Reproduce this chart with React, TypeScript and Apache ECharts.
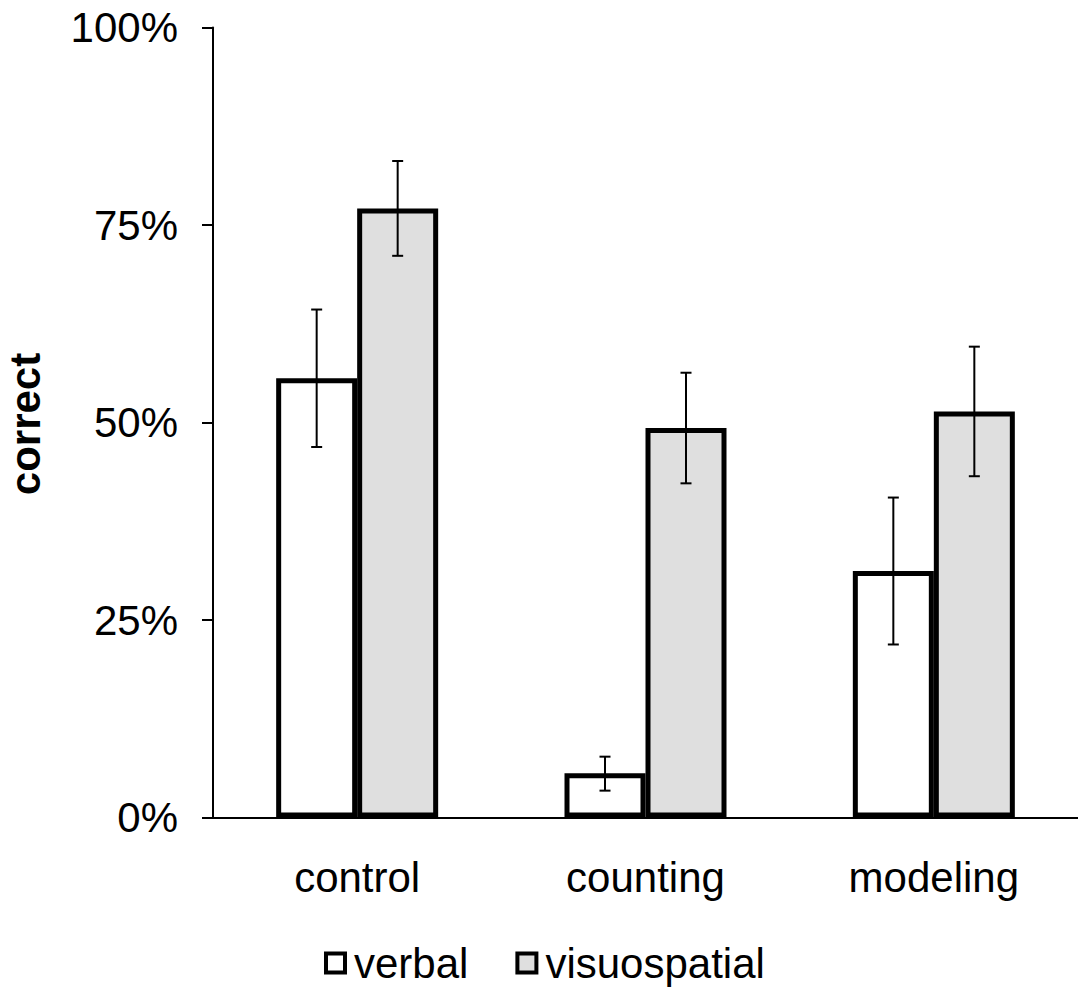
import React, { useEffect, useRef } from "react";
import * as echarts from "echarts";

const categories = ["control", "counting", "modeling"];
const seriesNames = ["verbal", "visuospatial"];
const verbalValues = [55.6, 5.6, 31.2];
const visuoValues = [77.1, 49.3, 51.4];
const verbalErrLow = [46.9, 3.4, 21.9];
const verbalErrHigh = [64.3, 7.7, 40.5];
const visuoErrLow = [71.1, 42.3, 43.2];
const visuoErrHigh = [83.1, 56.3, 59.6];
const yTicks = [0, 25, 50, 75, 100];

const FONT = "'Liberation Sans', Arial, Helvetica, sans-serif";
const BAR_W = 81;

function errSeries(name: string, low: number[], high: number[], offset: number) {
  return {
    type: "custom",
    name: name + "-err",
    silent: true,
    z: 10,
    data: categories.map((_, i) => [i, low[i], high[i]]),
    renderItem: (params: any, api: any) => {
      const c = api.value(0);
      const p1 = api.coord([c, api.value(1)]);
      const p2 = api.coord([c, api.value(2)]);
      const x = p1[0] + offset;
      const cap = 5.5;
      const style = { stroke: "#000", lineWidth: 2 };
      return {
        type: "group",
        children: [
          { type: "line", shape: { x1: x, y1: p1[1], x2: x, y2: p2[1] }, style },
          { type: "line", shape: { x1: x - cap, y1: p1[1], x2: x + cap, y2: p1[1] }, style },
          { type: "line", shape: { x1: x - cap, y1: p2[1], x2: x + cap, y2: p2[1] }, style },
        ],
      };
    },
  };
}

export default function App() {
  const ref = useRef<HTMLDivElement>(null);
  useEffect(() => {
    if (!ref.current) return;
    const chart = echarts.init(ref.current, null, { renderer: "svg" });
    chart.setOption({
      animation: false,
      backgroundColor: "#fff",
      textStyle: { fontFamily: FONT, color: "#000" },
      grid: { left: 213, top: 27.5, height: 790, width: 875, containLabel: false },
      legend: {
        data: seriesNames,
        left: 324,
        top: 942,
        padding: 0,
        icon: "rect",
        itemWidth: 19,
        itemHeight: 19,
        itemGap: 47,
        itemStyle: { borderWidth: 4, borderColor: "#000" },
        textStyle: { fontSize: 42, color: "#000", fontFamily: FONT, padding: [0, 0, 0, 4] },
      },
      xAxis: {
        type: "category",
        data: categories,
        axisLine: { show: true, lineStyle: { color: "#000", width: 2 } },
        axisTick: { show: false },
        axisLabel: { fontSize: 42, color: "#000", margin: 39, fontFamily: FONT },
      },
      yAxis: {
        type: "value",
        min: 0,
        max: 100,
        interval: 25,
        axisLine: { show: true, lineStyle: { color: "#000", width: 2 } },
        axisTick: { show: true, length: 11, lineStyle: { color: "#000", width: 2 } },
        splitLine: { show: false },
        axisLabel: {
          fontSize: 42,
          color: "#000",
          margin: 35,
          fontFamily: FONT,
          formatter: (v: number) => (yTicks.includes(v) ? v + "%" : ""),
        },
      },
      graphic: [
        {
          type: "text",
          x: 25,
          y: 424,
          rotation: Math.PI / 2,
          style: {
            text: "correct",
            fontSize: 42,
            fontWeight: "bold",
            fontFamily: FONT,
            fill: "#000",
            textAlign: "center",
            textVerticalAlign: "middle",
          },
        },
      ],
      series: [
        {
          name: seriesNames[0],
          type: "bar",
          data: verbalValues,
          barWidth: BAR_W,
          barGap: "0%",
          itemStyle: { color: "#fff", borderColor: "#000", borderWidth: 5 },
        },
        {
          name: seriesNames[1],
          type: "bar",
          data: visuoValues,
          barWidth: BAR_W,
          barGap: "0%",
          itemStyle: { color: "#dfdfdf", borderColor: "#000", borderWidth: 5 },
        },
        errSeries("verbal", verbalErrLow, verbalErrHigh, -BAR_W / 2),
        errSeries("visuospatial", visuoErrLow, visuoErrHigh, BAR_W / 2),
      ],
    });
    return () => chart.dispose();
  }, []);
  return (
    <div
      ref={ref}
      style={{ position: "fixed", left: 0, top: 0, width: 1078, height: 992 }}
    />
  );
}
